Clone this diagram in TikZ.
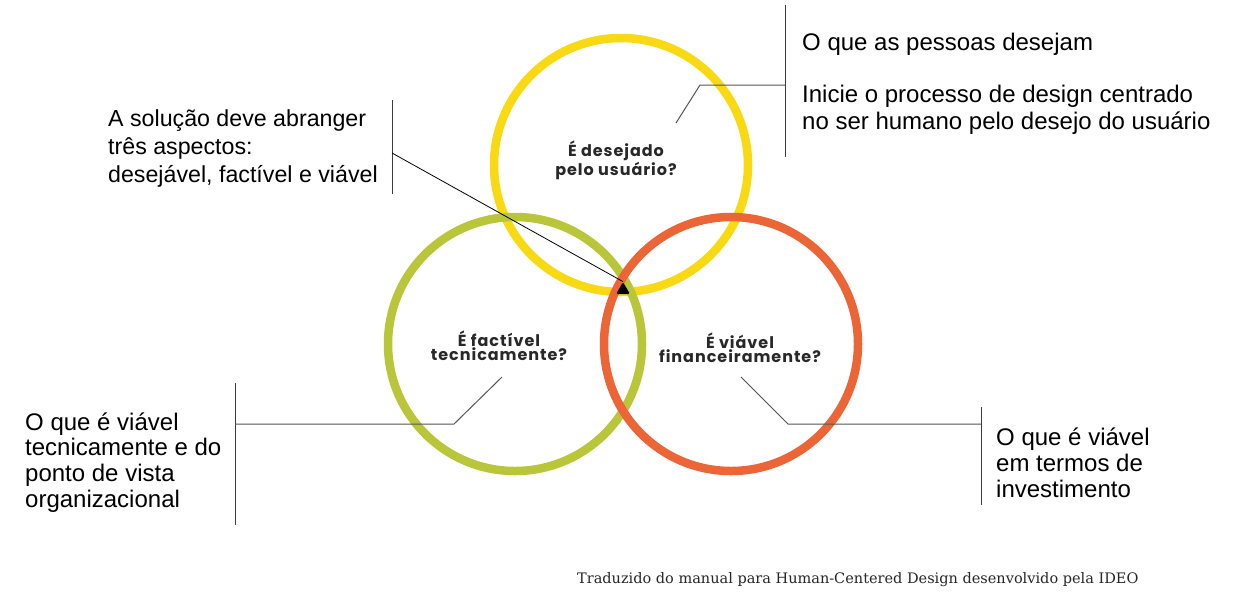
\documentclass[tikz,border=0pt]{standalone}
\usepackage{fontspec}
\setmainfont{Liberation Sans}
\newfontfamily\circfont{Poppins}[LetterSpace=6]
\newfontfamily\footfont{DejaVu Serif}
\usetikzlibrary{shapes.geometric}
\definecolor{ringyellow}{RGB}{248,217,18}
\definecolor{ringgreen}{RGB}{186,198,58}
\definecolor{ringorange}{RGB}{235,101,55}
\definecolor{qtext}{RGB}{40,40,40}
\definecolor{leadgray}{RGB}{85,85,85}
\definecolor{bargray}{RGB}{60,60,60}
\tikzset{
  ring/.style={circle, draw=#1, line width=8.5pt, minimum size=254pt, inner sep=0pt},
  lead/.style={draw=leadgray, line width=1pt},
  bar/.style={draw=bargray, line width=1pt},
  note/.style={anchor=north west, inner sep=0pt, align=left, text=black},
  qlabel/.style={font=\circfont\bfseries\fontsize{16}{14}\selectfont, text=qtext, align=center, inner sep=0pt, anchor=north},
}
\begin{document}
\begin{tikzpicture}[x=1pt,y=-1pt]
\fill[white] (0,0) rectangle (1234,598);
\useasboundingbox (0,0) rectangle (1234,598);

% rings
\node[ring=ringyellow] (yc) at (621,165) {};
\node[ring=ringgreen] (gc) at (515,344) {};
\node[ring=ringorange] (oc) at (731,344) {};

% questions
\node[qlabel] (yq) at (616,141) {É desejado\\pelo usuário?};
\node[qlabel] (gq) at (499,331) {É factível\\tecnicamente?};
\node[qlabel] (oq) at (740,333) {É viável\\financeiramente?};

% notes
\node[note, font=\fontsize{24}{26.5}\selectfont] (ynote) at (802,32.5)
  {O que as pessoas desejam\\[26pt]Inicie o processo de design centrado\\no ser humano pelo desejo do usuário};
\node[note, font=\fontsize{23.2}{27.8}\selectfont] (cnote) at (108,109.5)
  {A solução deve abranger\\três aspectos:\\desejável, factível e viável};
\node[note, font=\fontsize{24}{25.6}\selectfont] (gnote) at (25,412.5)
  {O que é viável\\tecnicamente e do\\ponto de vista\\organizacional};
\node[note, font=\fontsize{24}{26.2}\selectfont] (onote) at (996,427.5)
  {O que é viável\\em termos de\\investimento};

% bars
\coordinate (ybt) at (785,5);   \coordinate (ybb) at (785,157);
\coordinate (cbt) at (392,100); \coordinate (cbb) at (392,194);
\coordinate (gbt) at (235,383); \coordinate (gbb) at (235,525);
\coordinate (obt) at (981,407); \coordinate (obb) at (981,505);
\draw[bar] (ybt) -- (ybb);
\draw[bar] (cbt) -- (cbb);
\draw[bar] (gbt) -- (gbb);
\draw[bar] (obt) -- (obb);

% leaders
\coordinate (yl1) at (676,123); \coordinate (yl2) at (700,85); \coordinate (yl3) at (785,85);
\draw[lead] (yl1) -- (yl2) -- (yl3);
\coordinate (gl1) at (502,377); \coordinate (gl2) at (454,424); \coordinate (gl3) at (235,424);
\draw[lead] (gl1) -- (gl2) -- (gl3);
\coordinate (ol1) at (741,377); \coordinate (ol2) at (788,424); \coordinate (ol3) at (981,424);
\draw[lead] (ol1) -- (ol2) -- (ol3);

% central pointer
\node[fill=black, regular polygon, regular polygon sides=3, minimum size=16pt, inner sep=0pt, rounded corners=1.5pt] (tri) at (623,290) {};
\coordinate (cl1) at (392,153);
\draw[black, line width=0.8pt] (cl1) -- (tri.corner 1);

% footer
\node[anchor=base west, inner sep=0pt, font=\footfont\fontsize{14.5}{16}\selectfont, text=black!85] (foot) at (577,583)
  {Traduzido do manual para Human-Centered Design desenvolvido pela IDEO};
\end{tikzpicture}
\end{document}
